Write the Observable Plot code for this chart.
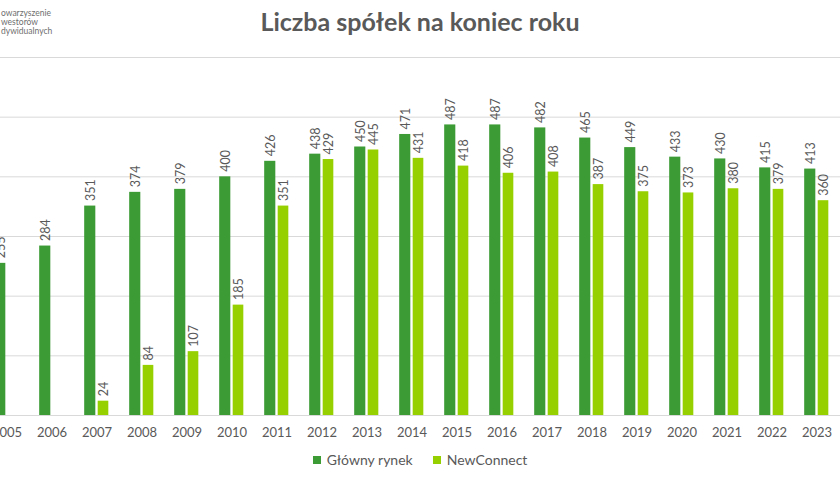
<!DOCTYPE html>
<html>
<head>
<meta charset="utf-8">
<script src="https://cdn.jsdelivr.net/npm/d3@7"></script>
<script src="https://cdn.jsdelivr.net/npm/@observablehq/plot@0.6"></script>
<style>
  html, body { margin: 0; padding: 0; background: #fff; }
  #wrap { position: relative; width: 840px; height: 480px; overflow: hidden; font-family: Lato, "Open Sans", sans-serif; }
  #title { position: absolute; left: 0; top: 6px; width: 840px; text-align: center; font-size: 25px; font-weight: bold; color: #595959; }
  #logo { position: absolute; left: 1px; top: 9px; font-size: 8.5px; line-height: 9px; color: #6f6f6f; }
  #logo div { height: 9px; overflow: visible; white-space: nowrap; }
  #legend { position: absolute; left: 0; top: 451px; width: 840px; display: flex; justify-content: center; gap: 20px; font-size: 14px; color: #595959; }
  #legend span.item { display: flex; align-items: center; gap: 6px; }
  #legend span.sw { width: 8px; height: 8px; display: inline-block; }
  #chart { position: absolute; left: 0; top: 0; }
</style>
</head>
<body>
<div id="wrap">
  <div id="chart"></div>
  <div id="logo"><div>owarzyszenie</div><div>westorów</div><div>dywidualnych</div></div>
  <div id="title">Liczba spółek na koniec roku</div>
  <div id="legend"></div>
</div>
<script>
const years = ["2005","2006","2007","2008","2009","2010","2011","2012","2013","2014","2015","2016","2017","2018","2019","2020","2021","2022","2023"];
const glownyRynek = [255,284,351,374,379,400,426,438,450,471,487,487,482,465,449,433,430,415,413];
const newConnect = [null,null,24,84,107,185,351,429,445,431,418,406,408,387,375,373,380,379,360];
const seriesNames = ["Główny rynek", "NewConnect"];
const seriesColors = ["#3d9b35", "#97d000"];
const gridTicks = [0,100,200,300,400,500,600];

const gr = years.map((y, i) => ({year: y, value: glownyRynek[i]}));
const nc = years.map((y, i) => ({year: y, value: newConnect[i]})).filter(d => d.value != null);

const step = 45.37;
const c0 = 3.3;
const r0 = c0 - step / 2;
const half = step / 2;

const plot = Plot.plot({
  width: 840,
  height: 480,
  marginTop: 57,
  marginBottom: 65,
  marginLeft: 0,
  marginRight: 0,
  style: {fontFamily: "Lato, 'Open Sans', sans-serif", background: "transparent"},
  x: {domain: years, range: [r0, r0 + step * years.length], padding: 0, label: null},
  y: {domain: [0, 600], axis: null},
  marks: [
    Plot.ruleY(gridTicks, {stroke: "#d9d9d9", strokeWidth: 1}),
    Plot.barY(gr, {x: "year", y: "value", fill: seriesColors[0], insetLeft: half - 12.5, insetRight: half + 1}),
    Plot.barY(nc, {x: "year", y: "value", fill: seriesColors[1], insetLeft: half + 1, insetRight: half - 12}),
    Plot.text(gr, {x: "year", y: "value", text: d => String(d.value), rotate: -90, textAnchor: "start", dx: -6.5, dy: -5, fill: "#595959", fontSize: 12.5}),
    Plot.text(nc, {x: "year", y: "value", text: d => String(d.value), rotate: -90, textAnchor: "start", dx: 6.5, dy: -5, fill: "#595959", fontSize: 12.5}),
    Plot.axisX({tickSize: 0, tickPadding: 12, fontSize: 13, color: "#595959", label: null})
  ]
});
document.getElementById("chart").appendChild(plot);

const legend = document.getElementById("legend");
seriesNames.forEach((n, i) => {
  const item = document.createElement("span");
  item.className = "item";
  const sw = document.createElement("span");
  sw.className = "sw";
  sw.style.background = seriesColors[i];
  item.appendChild(sw);
  item.appendChild(document.createTextNode(n));
  legend.appendChild(item);
});
</script>
</body>
</html>
